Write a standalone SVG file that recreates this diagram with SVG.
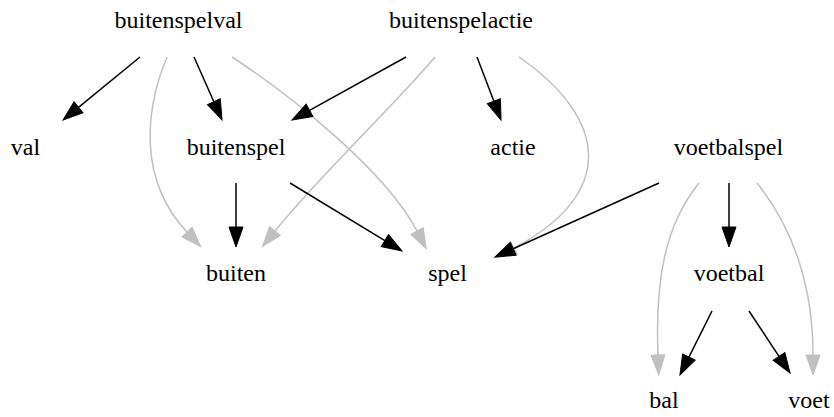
<svg xmlns="http://www.w3.org/2000/svg" width="834" height="417" viewBox="0 0 834 417">
<style>
text{font-family:"Liberation Serif","Times New Roman",serif;font-size:24px;fill:#000;text-anchor:middle}
.e{fill:none;stroke:#000;stroke-width:1.5}
.g{fill:none;stroke:#c0c0c0;stroke-width:1.5}
.e{marker-end:url(#ab)}
.g{marker-end:url(#ag)}
</style>
<defs>
<marker id="ab" markerUnits="userSpaceOnUse" markerWidth="22" markerHeight="16" refX="0" refY="7" orient="auto" overflow="visible">
<path d="M0,0 L20,7 L0,14 Z" fill="#000" stroke="#000" stroke-width="1"/>
</marker>
<marker id="ag" markerUnits="userSpaceOnUse" markerWidth="22" markerHeight="16" refX="0" refY="7" orient="auto" overflow="visible">
<path d="M0,0 L20,7 L0,14 Z" fill="#c0c0c0" stroke="#c0c0c0" stroke-width="1"/>
</marker>
</defs>
<rect width="834" height="417" fill="#fff"/>
<g id="edges">
<path class="g" d="M167,57 C145,110 138,180 187,232"/>
<path class="g" d="M232,57 C290,95 385,170 417,231"/>
<path class="g" d="M435,57 C390,110 320,175 275,231"/>
<path class="g" d="M519,57 C610,120 615,195 514,248"/>
<path class="g" d="M699,183 C665,225 655,280 658,355"/>
<path class="g" d="M757,183 C795,230 813,290 813,355"/>
<path class="e" d="M140,57 L78.5,107.3"/>
<path class="e" d="M194,57 L213.9,101.7"/>
<path class="e" d="M406,57 L309.5,110.3"/>
<path class="e" d="M477,57 L493.9,101.3"/>
<path class="e" d="M236,183 L236,227"/>
<path class="e" d="M290,183 L384.9,240.6"/>
<path class="e" d="M659,183 L513.2,248.8"/>
<path class="e" d="M729,183 L729,227"/>
<path class="e" d="M712,311 L688.9,357.1"/>
<path class="e" d="M749,311 L779,356.3"/>
</g>
<g id="buitenspelval"><text x="178.5" y="28">buitenspelval</text></g>
<g id="buitenspelactie"><text x="461" y="28">buitenspelactie</text></g>
<g id="val"><text x="25.5" y="155">val</text></g>
<g id="buitenspel"><text x="236" y="155">buitenspel</text></g>
<g id="actie"><text x="513" y="155">actie</text></g>
<g id="voetbalspel"><text x="728.5" y="155">voetbalspel</text></g>
<g id="buiten"><text x="236" y="281">buiten</text></g>
<g id="spel"><text x="447.5" y="281">spel</text></g>
<g id="voetbal"><text x="729" y="281">voetbal</text></g>
<g id="bal"><text x="664" y="408">bal</text></g>
<g id="voet"><text x="809" y="408">voet</text></g>
</svg>
